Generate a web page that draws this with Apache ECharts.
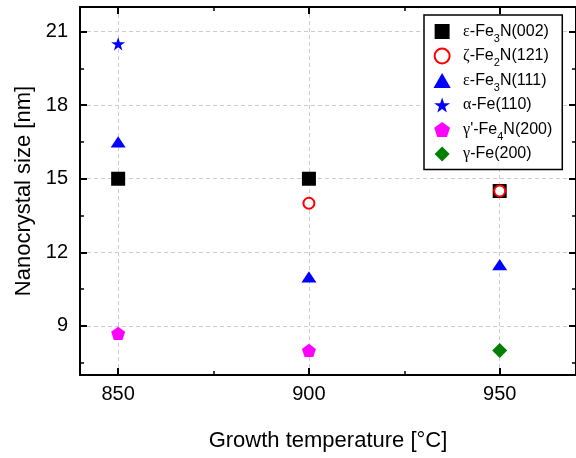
<!DOCTYPE html>
<html>
<head>
<meta charset="utf-8">
<script src="https://cdn.jsdelivr.net/npm/echarts@6/dist/echarts.min.js"></script>
<style>html,body{margin:0;padding:0;background:#fff;}#c{width:576px;height:458px;}</style>
</head>
<body>
<div id="c"></div>
<script>
// ---- data ----
const temperatures = [850, 900, 950];
const xMajorTicks = [850, 900, 950];
const xMinorTicks = [875, 925];
const yMajorTicks = [9, 12, 15, 18, 21];
const yMinorTicks = [7.5, 10.5, 13.5, 16.5, 19.5];
const seriesNames = ['ε-Fe3N(002)', 'ζ-Fe2N(121)', 'ε-Fe3N(111)', 'α-Fe(110)', "γ'-Fe4N(200)", 'γ-Fe(200)'];
const eFe3N002 = [[850, 15.0], [900, 15.0], [950, 14.5]];
const zFe2N121 = [[900, 14.0], [950, 14.5]];
const eFe3N111 = [[850, 16.5], [900, 11.0], [950, 11.5]];
const aFe110 = [[850, 20.5]];
const gpFe4N200 = [[850, 8.7], [900, 8.0]];
const gFe200 = [[950, 8.0]];

const SQUARE = 'path://M0,0 L10,0 L10,10 L0,10 Z';
const TRI = 'path://M50,0 L100,87 L0,87 Z';
const DIAMOND = 'path://M50,0 L100,50 L50,100 L0,50 Z';
const STAR = 'path://M50,0 L61.8,35.1 L98.9,35.1 L68.8,56.7 L79.4,91.9 L50,70 L20.6,91.9 L31.2,56.7 L1.1,35.1 L38.2,35.1 Z';
const PENTA = 'path://M50,0 L97.6,34.5 L79.4,90.5 L20.6,90.5 L2.4,34.5 Z';

const FONT = 'Liberation Sans, Arial, sans-serif';

function legendFmt(name) {
  const m = name.match(/^(.)(.*?Fe)(\d)?(.*)$/);
  let s = '{g|' + m[1] + '}{t|' + m[2] + '}';
  s += '{s|' + (m[3] ? m[3] : '\u200b') + '}';
  s += '{t|' + m[4] + '}';
  return s;
}

const chart = echarts.init(document.getElementById('c'), null, {renderer: 'canvas'});

const majorTick = {show: true, inside: true, length: 7, lineStyle: {color: '#000', width: 2}};
const minorTick = {show: true, inside: true, length: 4, lineStyle: {color: '#000', width: 1.5}};
const axisLine = {show: true, onZero: false, lineStyle: {color: '#000', width: 2}};
const splitLine = {show: true, lineStyle: {color: '#cccccc', width: 1, type: [4, 3]}};

const option = {
  animation: false,
  backgroundColor: '#fff',
  grid: {left: 80, top: 7, width: 499, height: 368},
  legend: {
    orient: 'vertical',
    left: 424, top: 15,
    padding: [4, 10, 3, 9.5],
    itemWidth: 32, itemHeight: 15, itemGap: -0.5,
    symbolKeepAspect: true,
    borderColor: '#000', borderWidth: 1.5,
    backgroundColor: '#fff',
    data: seriesNames,
    formatter: legendFmt,
    textStyle: {
      lineHeight: 25,
      rich: {
        t: {fontSize: 16, fontFamily: FONT, color: '#000', lineHeight: 25},
        g: {fontSize: 16, fontFamily: 'Liberation Serif, serif', color: '#000', lineHeight: 25},
        s: {fontSize: 11, fontFamily: FONT, color: '#000', lineHeight: 11, padding: [14, 0, 0, 0]}
      }
    }
  },
  xAxis: [
    {type: 'value', position: 'bottom', min: 840, max: 970, gridIndex: 0,
     axisLine: axisLine,
     axisTick: Object.assign({customValues: xMajorTicks}, majorTick),
     axisLabel: {customValues: xMajorTicks, fontSize: 20, fontFamily: FONT, color: '#000', margin: 9},
     splitLine: splitLine,
     name: 'Growth temperature [°C]', nameLocation: 'middle', nameGap: 55,
     nameTextStyle: {fontSize: 22, fontFamily: FONT, color: '#000'}},
    {type: 'value', position: 'bottom', min: 840, max: 970,
     axisLine: {show: false},
     axisTick: Object.assign({customValues: xMinorTicks}, minorTick),
     axisLabel: {show: false}, splitLine: {show: false}},
    {type: 'value', position: 'top', min: 840, max: 970,
     axisLine: axisLine,
     axisTick: Object.assign({customValues: xMajorTicks}, majorTick),
     axisLabel: {show: false}, splitLine: {show: false}},
    {type: 'value', position: 'top', min: 840, max: 970,
     axisLine: {show: false},
     axisTick: Object.assign({customValues: xMinorTicks}, minorTick),
     axisLabel: {show: false}, splitLine: {show: false}}
  ],
  yAxis: [
    {type: 'value', position: 'left', min: 7, max: 22,
     axisLine: axisLine,
     axisTick: Object.assign({customValues: yMajorTicks}, majorTick),
     axisLabel: {customValues: yMajorTicks, fontSize: 20, fontFamily: FONT, color: '#000', margin: 12},
     splitLine: splitLine,
     name: 'Nanocrystal size [nm]', nameLocation: 'middle', nameGap: 45, nameRotate: 90,
     nameTextStyle: {fontSize: 22, fontFamily: FONT, color: '#000'}},
    {type: 'value', position: 'left', min: 7, max: 22,
     axisLine: {show: false},
     axisTick: Object.assign({customValues: yMinorTicks}, minorTick),
     axisLabel: {show: false}, splitLine: {show: false}},
    {type: 'value', position: 'right', min: 7, max: 22,
     axisLine: axisLine,
     axisTick: Object.assign({customValues: yMajorTicks}, majorTick),
     axisLabel: {show: false}, splitLine: {show: false}},
    {type: 'value', position: 'right', min: 7, max: 22,
     axisLine: {show: false},
     axisTick: Object.assign({customValues: yMinorTicks}, minorTick),
     axisLabel: {show: false}, splitLine: {show: false}}
  ],
  series: [
    {name: seriesNames[0], type: 'scatter', data: eFe3N002, symbol: SQUARE, symbolSize: 14, symbolKeepAspect: true,
     itemStyle: {color: '#000', opacity: 1}},
    {name: seriesNames[1], type: 'scatter', data: zFe2N121, symbol: 'circle', symbolSize: 11, symbolKeepAspect: true,
     itemStyle: {color: '#fff', borderColor: '#ff0000', borderWidth: 2, opacity: 1}},
    {name: seriesNames[2], type: 'scatter', data: eFe3N111, symbol: TRI, symbolSize: [15, 13], symbolKeepAspect: true,
     itemStyle: {color: '#0000ff', opacity: 1}},
    {name: seriesNames[3], type: 'scatter', data: aFe110, symbol: STAR, symbolSize: 14, symbolKeepAspect: true,
     itemStyle: {color: '#0000ff', opacity: 1}},
    {name: seriesNames[4], type: 'scatter', data: gpFe4N200, symbol: PENTA, symbolSize: 14, symbolKeepAspect: true,
     itemStyle: {color: '#ff00ff', opacity: 1}},
    {name: seriesNames[5], type: 'scatter', data: gFe200, symbol: DIAMOND, symbolSize: 15, symbolKeepAspect: true,
     itemStyle: {color: '#007f00', opacity: 1}}
  ]
};
chart.setOption(option);
</script>
</body>
</html>
